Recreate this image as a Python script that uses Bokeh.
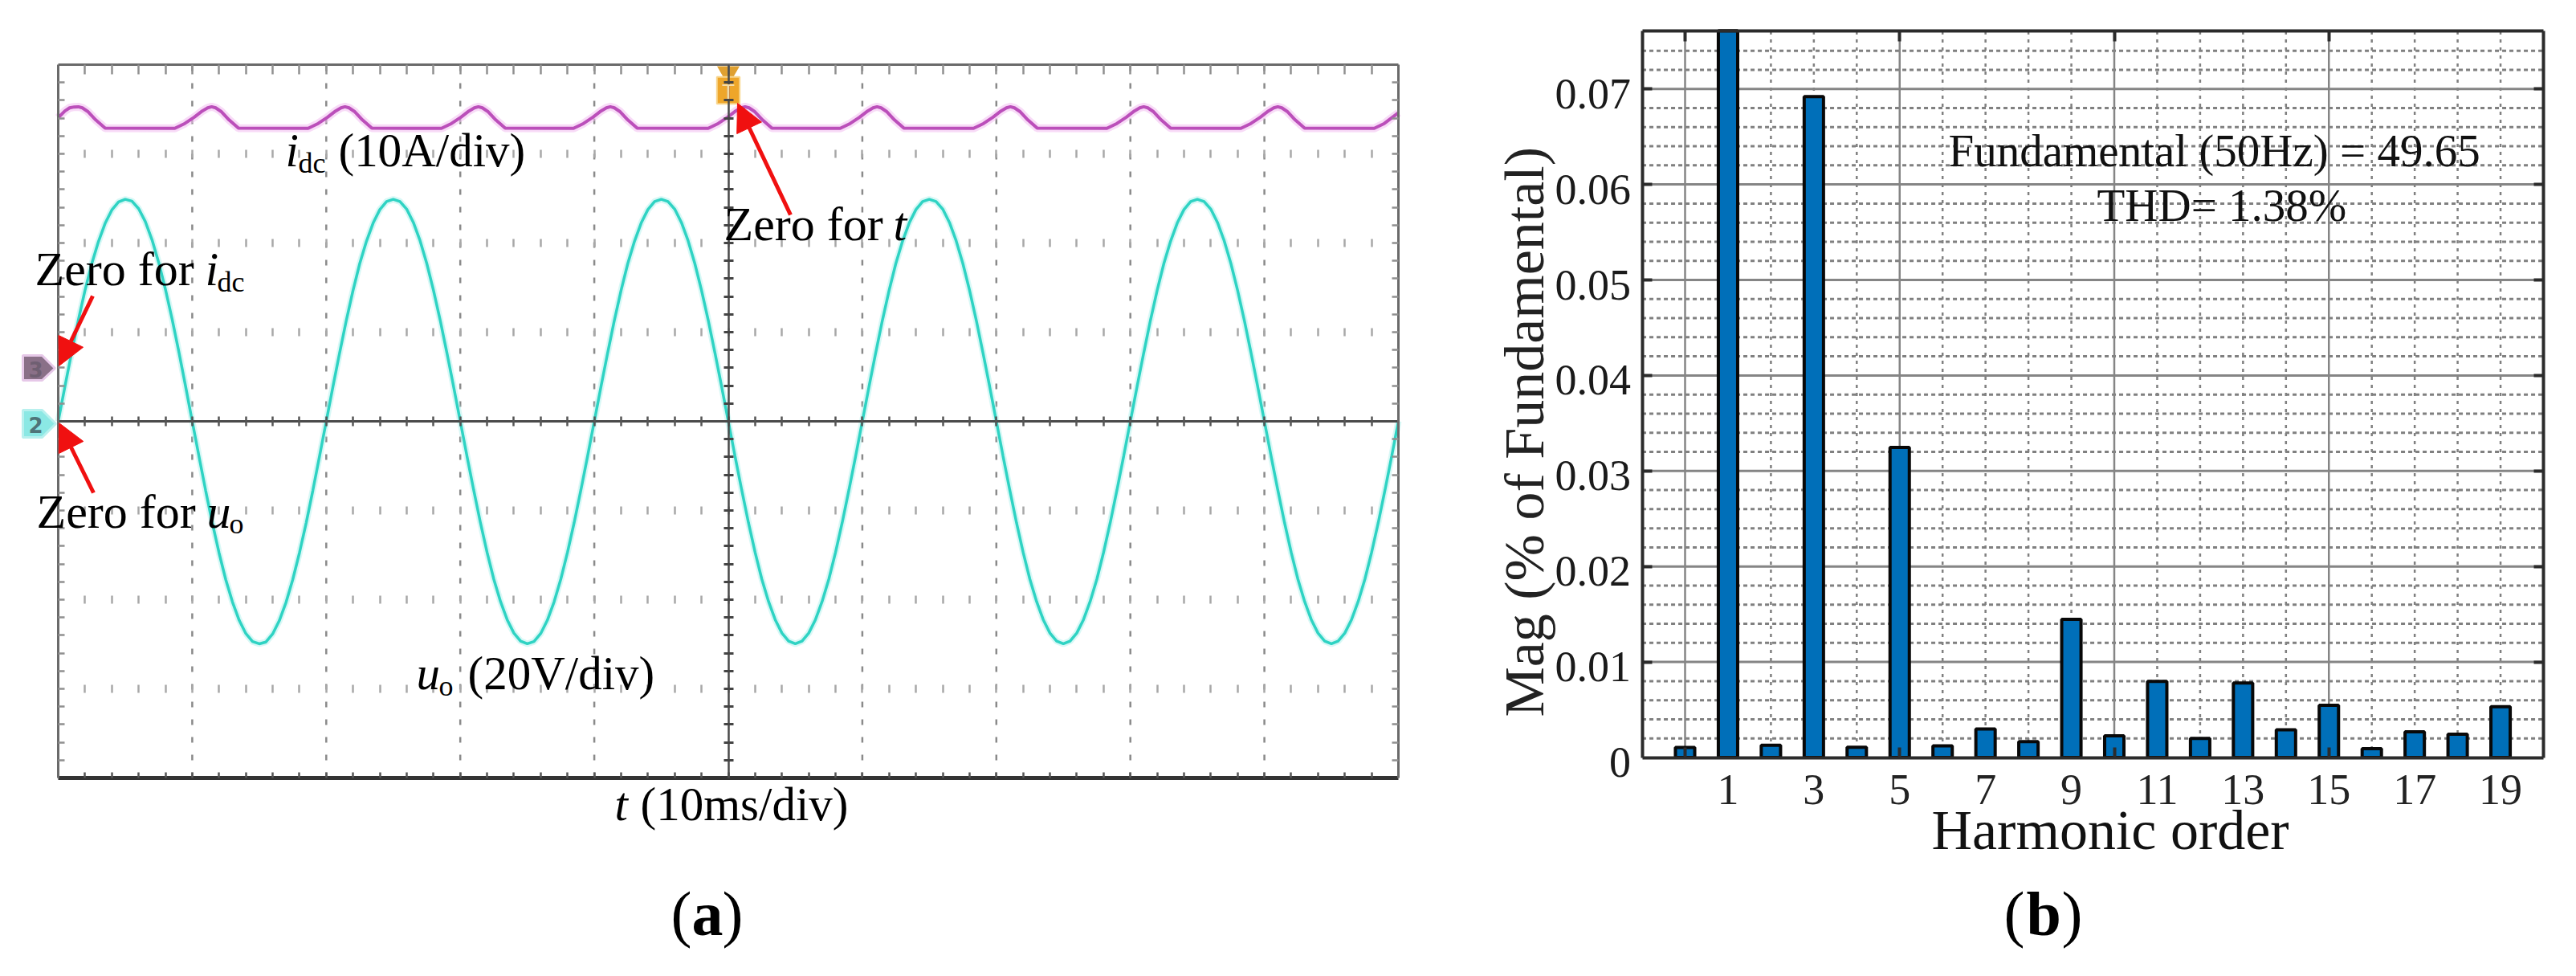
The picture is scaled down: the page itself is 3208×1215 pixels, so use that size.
from math import pi

from bokeh.embed import file_html
from bokeh.layouts import row
from bokeh.models import FixedTicker, Label, LinearAxis, NormalHead, Arrow, PrintfTickFormatter, Range1d
from bokeh.plotting import figure
from bokeh.resources import INLINE

SERIF = "Liberation Serif"

# ---- (a) scope capture
# output voltage in V, one reading every 0.5 ms
U_STEP_MS = 0.5
U_VOLT = [
    0, 7.8, 15.4, 22.7, 29.4, 35.3, 40.3, 44.4, 47.4, 49.2, 49.8, 49.4, 47.7, 44.8, 40.7, 35.6, 29.6, 22.9, 15.6, 7.9,
    0, -7.8, -15.5, -22.8, -29.5, -35.5, -40.5, -44.6, -47.6, -49.4, -49.9, -49.5, -47.7, -44.7, -40.6, -35.5, -29.5, -22.8, -15.5, -7.8,
    0, 7.8, 15.4, 22.7, 29.4, 35.4, 40.4, 44.5, 47.5, 49.3, 49.8, 49.3, 47.6, 44.6, 40.5, 35.4, 29.4, 22.7, 15.4, 7.8,
    0, -7.8, -15.4, -22.7, -29.4, -35.4, -40.4, -44.5, -47.5, -49.3, -49.9, -49.4, -47.6, -44.6, -40.5, -35.4, -29.4, -22.7, -15.4, -7.8,
    0, 7.8, 15.4, 22.7, 29.4, 35.4, 40.4, 44.5, 47.5, 49.3, 49.8, 49.3, 47.6, 44.6, 40.5, 35.4, 29.4, 22.7, 15.4, 7.8,
    0, -7.8, -15.4, -22.7, -29.4, -35.4, -40.4, -44.5, -47.5, -49.3, -49.9, -49.3, -47.5, -44.5, -40.4, -35.4, -29.4, -22.7, -15.4, -7.8,
    0, 7.8, 15.4, 22.7, 29.4, 35.4, 40.4, 44.5, 47.5, 49.3, 49.8, 49.3, 47.6, 44.6, 40.5, 35.4, 29.4, 22.7, 15.4, 7.8,
    0, -7.8, -15.4, -22.7, -29.4, -35.4, -40.4, -44.5, -47.5, -49.3, -49.9, -49.3, -47.5, -44.5, -40.4, -35.4, -29.4, -22.7, -15.4, -7.8,
    0, 7.8, 15.4, 22.7, 29.4, 35.4, 40.4, 44.5, 47.5, 49.3, 49.8, 49.3, 47.6, 44.6, 40.5, 35.4, 29.4, 22.7, 15.4, 7.8,
    0, -7.8, -15.4, -22.7, -29.4, -35.4, -40.4, -44.5, -47.5, -49.3, -49.9, -49.3, -47.5, -44.5, -40.4, -35.4, -29.4, -22.7, -15.4, -7.8,
    0,
]

# dc current ripple in A
IDC_MS = [
    0, 0.5, 0.85, 1.2, 1.5, 1.8, 2.2, 2.8, 3.5,
    8.7, 9.45, 10.15, 10.75, 11.15, 11.45, 11.75, 12.15, 12.75, 13.45,
    18.65, 19.4, 20.1, 20.7, 21.1, 21.4, 21.7, 22.1, 22.7, 23.4,
    28.6, 29.35, 30.05, 30.65, 31.05, 31.35, 31.65, 32.05, 32.65, 33.35,
    38.45, 39.2, 39.9, 40.5, 40.9, 41.2, 41.5, 41.9, 42.5, 43.2,
    48.5, 49.25, 49.95, 50.55, 50.95, 51.25, 51.55, 51.95, 52.55, 53.25,
    58.35, 59.1, 59.8, 60.4, 60.8, 61.1, 61.4, 61.8, 62.4, 63.1,
    68.3, 69.05, 69.75, 70.35, 70.75, 71.05, 71.35, 71.75, 72.35, 73.05,
    78.25, 79.0, 79.7, 80.3, 80.7, 81.0, 81.3, 81.7, 82.3, 83.0,
    88.25, 89.0, 89.7, 90.3, 90.7, 91.0, 91.3, 91.7, 92.3, 93.0,
    98.2, 98.95, 100,
]
IDC_AMP = [
    28.2, 28.95, 29.3, 29.4, 29.42, 29.3, 28.9, 27.95, 27.03,
    27.0, 27.55, 28.25, 28.95, 29.3, 29.42, 29.3, 28.9, 27.95, 27.03,
    27.0, 27.55, 28.25, 28.95, 29.3, 29.42, 29.3, 28.9, 27.95, 27.03,
    27.0, 27.55, 28.25, 28.95, 29.3, 29.42, 29.3, 28.9, 27.95, 27.03,
    27.0, 27.55, 28.25, 28.95, 29.3, 29.42, 29.3, 28.9, 27.95, 27.03,
    27.0, 27.55, 28.25, 28.95, 29.3, 29.42, 29.3, 28.9, 27.95, 27.03,
    27.0, 27.55, 28.25, 28.95, 29.3, 29.42, 29.3, 28.9, 27.95, 27.03,
    27.0, 27.55, 28.25, 28.95, 29.3, 29.42, 29.3, 28.9, 27.95, 27.03,
    27.0, 27.55, 28.25, 28.95, 29.3, 29.42, 29.3, 28.9, 27.95, 27.03,
    27.0, 27.55, 28.25, 28.95, 29.3, 29.42, 29.3, 28.9, 27.95, 27.03,
    27.0, 27.55, 28.75,
]

T_DIVS = [10, 20, 30, 40, 60, 70, 80, 90]
U_DIVS = [-60, -40, -20, 20, 40, 60]
T_FINE = [2 * k for k in range(1, 50)]
U_FINE = [-76, -72, -68, -64, -60, -56, -52, -48, -44, -40, -36, -32, -28, -24, -20, -16, -12, -8, -4,
          4, 8, 12, 16, 20, 24, 28, 32, 36, 40, 44, 48, 52, 56, 60, 64, 68, 72, 76]

# ---- (b) harmonic spectrum
HARMONICS = list(range(20))
# order 1 runs off the top of the axis, so only the visible part is kept
MAG = [0.00105, 0.0761, 0.00128, 0.0692, 0.00108, 0.03246, 0.00122, 0.00299, 0.00167, 0.01447,
       0.00227, 0.00797, 0.0020, 0.00781, 0.0029, 0.00547, 0.00092, 0.0027, 0.00243, 0.00531]
X_LIM = (-1, 20)
Y_LIM = (0, 0.0761)
X_LABELS = [1, 3, 5, 7, 9, 11, 13, 15, 17, 19]
X_MAJOR = [0, 5, 10, 15]
X_MINOR = [1, 2, 3, 4, 6, 7, 8, 9, 11, 12, 13, 14, 16, 17, 18, 19]
Y_MAJOR = [0.01, 0.02, 0.03, 0.04, 0.05, 0.06, 0.07]
Y_MINOR = [0.002, 0.004, 0.006, 0.008, 0.012, 0.014, 0.016, 0.018, 0.022, 0.024, 0.026, 0.028,
           0.032, 0.034, 0.036, 0.038, 0.042, 0.044, 0.046, 0.048, 0.052, 0.054, 0.056, 0.058,
           0.062, 0.064, 0.066, 0.068, 0.072, 0.074]
Y_TICK_TEXT = {0: "0", 0.01: "0.01", 0.02: "0.02", 0.03: "0.03", 0.04: "0.04", 0.05: "0.05", 0.06: "0.06", 0.07: "0.07"}


# page pixels to data, panel (a)
def ax(px):
    return (px - 72) / 16.69


def ay(py):
    return (524 - py) / 5.55


# page pixels to data, panel (b)
def bx(px):
    return (px - 2098) / 53.45


def by(py):
    return (942.5 - py) / 11890


def ticks_only(ticker, tick_in, tick_out, color, width, **kw):
    return LinearAxis(ticker=FixedTicker(ticks=ticker), formatter=PrintfTickFormatter(format=""),
                      major_tick_in=tick_in, major_tick_out=tick_out, minor_tick_line_color=None,
                      major_tick_line_color=color, major_tick_line_width=width, major_label_standoff=0, **kw)


def text(p, x, y, s, size, style="normal", color="black", font=SERIF, **kw):
    # the svg text sits about a third of an em under the anchor, lift it back
    lift = 0.33 * size
    offset = {"x_offset": -lift} if "angle" in kw else {"y_offset": lift}
    p.add_layout(Label(x=x, y=y, text=s, text_font=font, text_font_size=f"{size}px", text_font_style=style,
                       text_color=color, text_baseline="alphabetic", **offset, **kw))


def red_arrow(p, x0, y0, x1, y1):
    p.add_layout(Arrow(end=NormalHead(size=34, fill_color="#f01010", line_color="#f01010", line_width=1),
                       x_start=x0, y_start=y0, x_end=x1, y_end=y1, line_color="#f01010", line_width=5))


# ============================================================================
# (a) scope
# ============================================================================
pa = figure(width=1850, height=1215, output_backend="svg", toolbar_location=None,
            x_range=Range1d(ax(0), ax(1850)), y_range=Range1d(ay(1215), ay(0)),
            x_axis_location=None, y_axis_location=None, min_border=0, outline_line_color=None)
pa.grid.visible = False
pa.extra_y_ranges = {"idc": Range1d((459 - 1215) / 11.1, 459 / 11.1)}

# dotted division lines
pa.segment(x0=T_DIVS, x1=T_DIVS, y0=[-80] * len(T_DIVS), y1=[80] * len(T_DIVS), line_color="#8a8a8a", line_width=2.5,
           line_dash="7 15")
for u in U_DIVS:
    pa.add_layout(ticks_only(T_FINE, 5, 5, "#a8a8a8", 2.5, fixed_location=u, bounds=(0, 100), axis_line_color=None), "below")

# frame and centre lines
pa.add_layout(ticks_only(T_FINE, 12, 0, "#909090", 2.5, fixed_location=80, bounds=(0, 100),
                         axis_line_color="#6a6a6a", axis_line_width=3), "above")
pa.add_layout(ticks_only(T_FINE, 7, 0, "#555555", 2.5, fixed_location=-80, bounds=(0, 100),
                         axis_line_color="#333333", axis_line_width=5), "below")
pa.add_layout(ticks_only(U_FINE, 8, 0, "#909090", 2.5, fixed_location=0, bounds=(-80, 80),
                         axis_line_color="#6a6a6a", axis_line_width=3), "left")
pa.add_layout(ticks_only(U_FINE, 8, 0, "#909090", 2.5, fixed_location=100, bounds=(-80, 80),
                         axis_line_color="#6a6a6a", axis_line_width=3), "right")
pa.add_layout(ticks_only(T_FINE, 6, 6, "#555555", 2.5, fixed_location=0, bounds=(0, 100),
                         axis_line_color="#4a4a4a", axis_line_width=3), "below")
pa.add_layout(ticks_only(U_FINE, 6, 6, "#444444", 3, fixed_location=50, bounds=(-80, 80),
                         axis_line_color="#4a4a4a", axis_line_width=2.5), "left")

# traces
t_ms = [k * U_STEP_MS for k in range(len(U_VOLT))]
pa.line(t_ms, U_VOLT, line_color="#a8f0ea", line_width=8, line_alpha=0.45)
pa.line(t_ms, U_VOLT, line_color="#2fd3c3", line_width=3.5)
pa.line(IDC_MS, IDC_AMP, y_range_name="idc", line_color="#f2bdf0", line_width=10, line_alpha=0.55)
pa.line(IDC_MS, IDC_AMP, y_range_name="idc", line_color="#bb4fba", line_width=4)

# scope markers
pa.scatter(x=[50], y=[ay(90)], marker="inverted_triangle", size=28, fill_color="#dfa030", line_color=None)
pa.rect(x=[50], y=[ay(112)], width=1.7, height=6, fill_color="#eea62a", line_color="#f8d58c", line_width=2)
pa.patch([ax(28), ax(52), ax(68), ax(52), ax(28)], [ay(442), ay(442), ay(458), ay(473), ay(473)],
         fill_color="#8a7088", line_color="#e6c8e8", line_width=3)
pa.patch([ax(28), ax(52), ax(69), ax(52), ax(28)], [ay(510), ay(510), ay(527), ay(544), ay(544)],
         fill_color="#8be8e4", line_color="#b8f0ee", line_width=3)
text(pa, 50, ay(122), "T", 24, color="#f5dca8", font="DejaVu Sans", text_align="center")
text(pa, ax(44), ay(468), "3", 26, "bold", "#6f5f72", "DejaVu Sans", text_align="center")
text(pa, ax(44), ay(537), "2", 26, "bold", "#4f7478", "DejaVu Sans", text_align="center")

# arrows
red_arrow(pa, ax(115), ay(368), ax(73), ay(455))
red_arrow(pa, ax(116), ay(613), ax(73), ay(526))
red_arrow(pa, ax(984), ay(267), ax(918), ay(128))

# annotations
text(pa, ax(355), ay(206), "i", 59, "italic")
text(pa, ax(371), ay(214), "dc", 36)
text(pa, ax(421), ay(206), "(10A/div)", 59)
text(pa, ax(43), ay(354), "Zero for", 60)
text(pa, ax(255), ay(354), "i", 60, "italic")
text(pa, ax(270), ay(362), "dc", 36)
text(pa, ax(45), ay(656), "Zero for", 60)
text(pa, ax(257), ay(656), "u", 60, "italic")
text(pa, ax(285), ay(663), "o", 36)
text(pa, ax(901), ay(298), "Zero for", 60)
text(pa, ax(1112), ay(298), "t", 60, "italic")
text(pa, ax(518), ay(857), "u", 59, "italic")
text(pa, ax(546), ay(865), "o", 36)
text(pa, ax(582), ay(857), "(20V/div)", 59)
text(pa, ax(765), ay(1020), "t", 59, "italic")
text(pa, ax(797), ay(1020), "(10ms/div)", 59)
text(pa, ax(835), ay(1163), "(", 78)
text(pa, ax(861), ay(1163), "a", 78, "bold")
text(pa, ax(899), ay(1163), ")", 78)

# ============================================================================
# (b) spectrum
# ============================================================================
pb = figure(width=1358, height=1215, output_backend="svg", toolbar_location=None,
            x_range=Range1d(bx(1850), bx(3208)), y_range=Range1d(by(1215), by(0)),
            x_axis_location=None, y_axis_location=None, min_border=0, outline_line_color=None)
pb.grid.visible = False
# tick labels sit 6px under their ticks in the reference
pb.extra_y_ranges = {"ylabels": Range1d(by(1215) + 6 / 11890, by(0) + 6 / 11890)}

# grid, minor dotted then major solid, all kept inside the axes box
pb.segment(x0=X_MINOR, x1=X_MINOR, y0=[Y_LIM[0]] * len(X_MINOR), y1=[Y_LIM[1]] * len(X_MINOR),
           line_color="#808080", line_width=2.5, line_dash="4 6")
pb.segment(x0=[X_LIM[0]] * len(Y_MINOR), x1=[X_LIM[1]] * len(Y_MINOR), y0=Y_MINOR, y1=Y_MINOR,
           line_color="#808080", line_width=3, line_dash="5 4")
pb.segment(x0=X_MAJOR, x1=X_MAJOR, y0=[Y_LIM[0]] * len(X_MAJOR), y1=[Y_LIM[1]] * len(X_MAJOR),
           line_color="#858585", line_width=2.5)
pb.segment(x0=[X_LIM[0]] * len(Y_MAJOR), x1=[X_LIM[1]] * len(Y_MAJOR), y0=Y_MAJOR, y1=Y_MAJOR,
           line_color="#858585", line_width=3)

pb.vbar(x=HARMONICS, top=MAG, bottom=0, width=0.45, fill_color="#006fb9", line_color="#080808", line_width=4)

# axes box
xlab = LinearAxis(ticker=FixedTicker(ticks=X_LABELS), fixed_location=0, bounds=X_LIM,
                  major_tick_line_color=None, minor_tick_line_color=None,
                  axis_line_color="#2b2b2b", axis_line_width=4, major_label_standoff=16,
                  major_label_text_font=SERIF, major_label_text_font_size="54px", major_label_text_color="#222222")
pb.add_layout(xlab, "below")
ylab = LinearAxis(ticker=FixedTicker(ticks=list(Y_TICK_TEXT)), major_label_overrides=Y_TICK_TEXT, fixed_location=-1,
                  y_range_name="ylabels", major_tick_line_color=None, minor_tick_line_color=None,
                  axis_line_color=None, major_label_standoff=8,
                  major_label_text_font=SERIF, major_label_text_font_size="54px", major_label_text_color="#1a1a1a")
pb.add_layout(ylab, "left")
pb.add_layout(ticks_only(Y_MAJOR, 12, 0, "#2b2b2b", 4, fixed_location=-1, bounds=Y_LIM,
                         axis_line_color="#2b2b2b", axis_line_width=4), "left")
pb.add_layout(ticks_only(Y_MAJOR, 12, 0, "#2b2b2b", 4, fixed_location=20, bounds=Y_LIM,
                         axis_line_color="#2b2b2b", axis_line_width=4), "right")
pb.add_layout(ticks_only(X_MAJOR, 13, 0, "#2b2b2b", 4, fixed_location=Y_LIM[1], bounds=X_LIM,
                         axis_line_color="#2b2b2b", axis_line_width=4), "above")
pb.add_layout(ticks_only(X_MAJOR, 13, 0, "#2b2b2b", 4, fixed_location=0, bounds=X_LIM, axis_line_color=None), "below")

text(pb, bx(1921), by(892), "Mag (% of  Fundamental)", 70, color="#222222", angle=pi / 2)
text(pb, bx(2405), by(1056), "Harmonic  order", 70, color="#111111")
text(pb, bx(2426), by(206), "Fundamental (50Hz) = 49.65", 57, color="#111111")
text(pb, bx(2611), by(274), "THD= 1.38%", 57, color="#111111")
text(pb, bx(2495), by(1163), "(", 78)
text(pb, bx(2523), by(1163), "b", 78, "bold")
text(pb, bx(2567), by(1163), ")", 78)

layout = row(pa, pb, spacing=0)
open("out.html", "w").write(file_html(layout, INLINE))
